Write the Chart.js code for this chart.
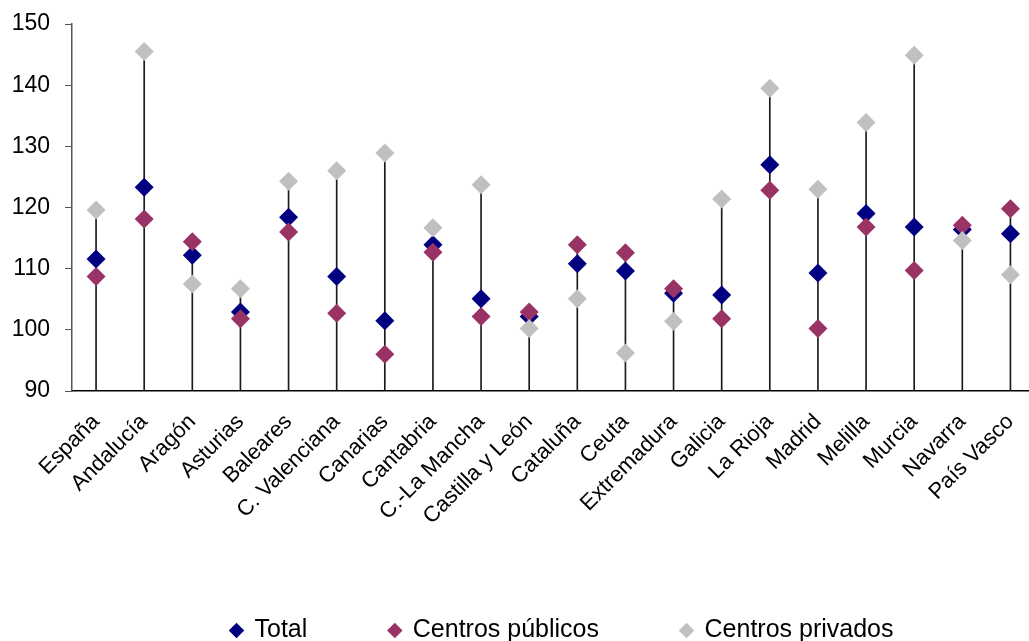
<!DOCTYPE html>
<html>
<head>
<meta charset="utf-8">
<script src="https://cdn.jsdelivr.net/npm/chart.js@4.4.1/dist/chart.umd.min.js"></script>
<style>
  html, body { margin: 0; padding: 0; background: #ffffff; overflow: hidden; }
  #wrap { width: 1044px; height: 641px; }
</style>
</head>
<body>
<div id="wrap"><canvas id="c" width="1044" height="641"></canvas></div>
<script>
const categories = ['España','Andalucía','Aragón','Asturias','Baleares','C. Valenciana','Canarias','Cantabria','C.-La Mancha','Castilla y León','Cataluña','Ceuta','Extremadura','Galicia','La Rioja','Madrid','Melilla','Murcia','Navarra','País Vasco'];
const total    = [111.6,123.3,112.2,102.9,118.4,108.7,101.5,113.9,105.1,102.2,110.8,109.6,106.0,105.7,127.0,109.3,119.0,116.8,116.4,115.7];
const publicos = [108.7,118.1,114.4,101.8,116.0,102.7,96.0,112.7,102.2,102.9,113.9,112.6,106.7,101.8,122.8,100.2,116.8,109.7,117.1,119.8];
const privados = [119.6,145.5,107.5,106.7,124.3,126.0,128.9,116.7,123.7,100.2,105.1,96.2,101.4,121.4,139.5,123.0,133.9,144.9,114.6,109.0];
const yMin = 90, yMax = 150, yStep = 10;
const seriesNames = ['Total','Centros públicos','Centros privados'];

const FONT = '"Liberation Sans", Arial, sans-serif';
const stems = categories.map((_, i) => [yMin, Math.max(total[i], publicos[i], privados[i])]);

const legendShift = {
  id: 'legendShift',
  afterLayout(chart) {
    if (chart.legend) { chart.legend.left += 9; chart.legend.right += 9; }
  }
};

new Chart(document.getElementById('c'), {
  data: {
    labels: categories,
    datasets: [
      { type: 'scatter', label: seriesNames[0], data: total, showLine: false, pointStyle: 'rectRot', pointRadius: 9.5, pointHoverRadius: 9.5, backgroundColor: '#000080', borderColor: '#000080', borderWidth: 0, order: 3 },
      { type: 'scatter', label: seriesNames[1], data: publicos, showLine: false, pointStyle: 'rectRot', pointRadius: 9.5, pointHoverRadius: 9.5, backgroundColor: '#993366', borderColor: '#993366', borderWidth: 0, order: 2 },
      { type: 'scatter', label: seriesNames[2], data: privados, showLine: false, pointStyle: 'rectRot', pointRadius: 9.5, pointHoverRadius: 9.5, backgroundColor: '#C0C0C0', borderColor: '#C0C0C0', borderWidth: 0, order: 1 },
      { type: 'bar', label: 'stem', data: stems, backgroundColor: '#1a1a1a', barThickness: 1, borderWidth: 0, order: 4 }
    ]
  },
  plugins: [legendShift],
  options: {
    responsive: false,
    animation: false,
    layout: { padding: { top: 24, bottom: -12, left: 0, right: 0 } },
    scales: {
      x: {
        type: 'category',
        offset: true,
        grid: { display: false },
        border: { display: true, color: '#000000', width: 1.5 },
        ticks: { color: '#000000', font: { family: FONT, size: 22 }, minRotation: 45, maxRotation: 45, autoSkip: false, padding: 10 },
        afterFit: (s) => { s.height = 145; }
      },
      y: {
        min: yMin, max: yMax,
        grid: { display: true, drawOnChartArea: false, drawTicks: true, tickLength: 7, color: '#555555' },
        border: { display: true, color: '#555555', width: 1.5 },
        ticks: { stepSize: yStep, color: '#000000', font: { family: FONT, size: 23 }, padding: 15 },
        afterFit: (s) => { s.width = 72; s.paddingTop = 0; s.paddingBottom = 0; }
      }
    },
    plugins: {
      tooltip: { enabled: false },
      legend: {
        position: 'bottom',
        fullSize: false,
        labels: {
          usePointStyle: true,
          boxWidth: 11,
          boxHeight: 11,
          padding: 82,
          color: '#000000',
          font: { family: FONT, size: 25 },
          filter: (item) => item.text !== 'stem',
          sort: (a, b) => a.datasetIndex - b.datasetIndex
        }
      }
    }
  }
});
</script>
</body>
</html>
